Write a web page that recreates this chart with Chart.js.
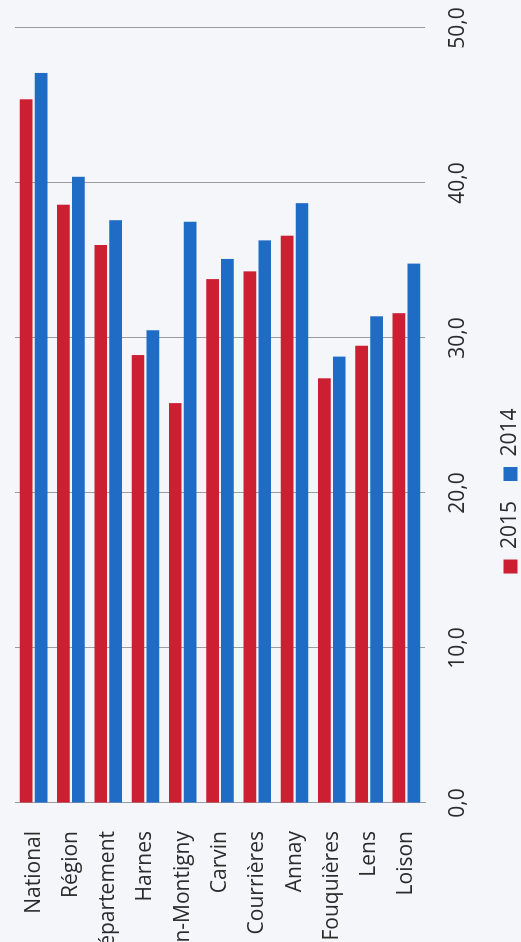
<!DOCTYPE html>
<html lang="fr">
<head>
<meta charset="utf-8">
<title>2015 / 2014</title>
<script src="https://cdn.jsdelivr.net/npm/chart.js@4"></script>
<style>
  html, body {
    margin: 0;
    padding: 0;
    background: #f4f6f9;
    width: 521px;
    height: 942px;
    overflow: hidden;
  }
  /* the chart is laid out as a horizontal bar chart, then turned a quarter turn */
  #frame {
    position: absolute;
    left: 0;
    top: 0;
    width: 942px;
    height: 521px;
    overflow: hidden;
    transform-origin: 0 0;
    transform: translateY(942px) rotate(-90deg);
  }
  #chart {
    position: absolute;
    left: -34px;
    top: 0;
  }
</style>
</head>
<body>
<div id="frame">
  <canvas id="chart" width="970" height="531"></canvas>
</div>
<script>
const categories = [
  "National", "Région", "Département", "Harnes", "Hénin-Montigny", "Carvin",
  "Courrières", "Annay", "Fouquières", "Lens", "Loison"
];
const values2015 = [45.4, 38.6, 36.0, 28.9, 25.8, 33.8, 34.3, 36.6, 27.4, 29.5, 31.6];
const values2014 = [47.1, 40.4, 37.6, 30.5, 37.5, 35.1, 36.3, 38.7, 28.8, 31.4, 34.8];
const valueTicks = ["0,0", "10,0", "20,0", "30,0", "40,0", "50,0"];

const RED = "#cc1f31";
const BLUE = "#1f6cc7";
const FONT = "'Open Sans', 'Noto Sans', sans-serif";

document.addEventListener("DOMContentLoaded", function () {
  const ctx = document.getElementById("chart").getContext("2d");
  const chart = new Chart(ctx, {
    type: "bar",
    data: {
      labels: categories,
      datasets: [
        {
          label: "2015",
          data: values2015,
          backgroundColor: RED,
          borderWidth: 0,
          categoryPercentage: 0.8,
          barPercentage: 0.85,
        },
        {
          label: "2014",
          data: values2014,
          backgroundColor: BLUE,
          borderWidth: 0,
          categoryPercentage: 0.8,
          barPercentage: 0.85,
        },
      ],
    },
    options: {
      indexAxis: "y",
      responsive: false,
      animation: false,
      layout: {
        padding: { top: 15, left: 0, right: 0, bottom: 0 },
      },
      plugins: {
        tooltip: { enabled: false },
        legend: {
          position: "bottom",
          labels: {
            boxWidth: 14,
            boxHeight: 14,
            padding: 20,
            color: "#2b2b2b",
            font: { family: FONT, size: 21 },
          },
        },
      },
      scales: {
        x: {
          min: 0,
          max: 50,
          ticks: {
            stepSize: 10,
            padding: 20,
            color: "#2b2b2b",
            font: { family: FONT, size: 21 },
            callback: function (value, index) {
              return valueTicks[index];
            },
          },
          grid: {
            color: "#9a9ca0",
            lineWidth: 1,
            drawTicks: false,
          },
          border: { display: false },
          afterFit: function (scale) {
            // fixed band under the plot; only room for the last label on the right
            scale.height = 55;
            scale.paddingLeft = 0;
            scale.paddingRight = 22;
          },
        },
        y: {
          ticks: {
            padding: 28,
            color: "#2b2b2b",
            font: { family: FONT, size: 21 },
          },
          grid: { display: false, drawTicks: false },
          border: { display: true, color: "#9a9ca0", width: 1 },
          afterFit: function (scale) {
            // long names run off the left edge
            scale.width = 173;
            scale.paddingTop = 0;
            scale.paddingBottom = 0;
          },
        },
      },
    },
  });
});
</script>
</body>
</html>
